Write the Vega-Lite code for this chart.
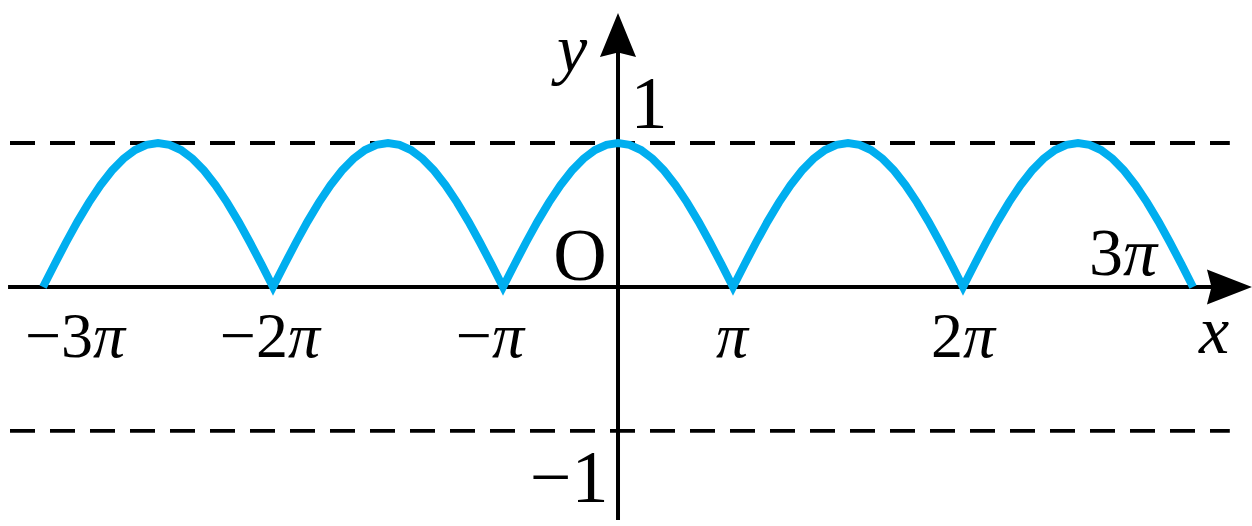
{
  "$schema": "https://vega.github.io/schema/vega-lite/v6.json",
  "width": 1252,
  "height": 526,
  "padding": 0,
  "autosize": {"type": "fit", "contains": "padding"},
  "background": "white",
  "config": {"view": {"stroke": null}},
  "datasets": {
    "curve": [
      {"x": -5.0, "y": 0}, {"x": -4.9, "y": 0.1564}, {"x": -4.8, "y": 0.309}, {"x": -4.7, "y": 0.454}, {"x": -4.6, "y": 0.5878}, {"x": -4.5, "y": 0.7071}, {"x": -4.4, "y": 0.809}, {"x": -4.3, "y": 0.891}, {"x": -4.2, "y": 0.9511}, {"x": -4.1, "y": 0.9877},
      {"x": -4.0, "y": 1}, {"x": -3.9, "y": 0.9877}, {"x": -3.8, "y": 0.9511}, {"x": -3.7, "y": 0.891}, {"x": -3.6, "y": 0.809}, {"x": -3.5, "y": 0.7071}, {"x": -3.4, "y": 0.5878}, {"x": -3.3, "y": 0.454}, {"x": -3.2, "y": 0.309}, {"x": -3.1, "y": 0.1564},
      {"x": -3.0, "y": 0}, {"x": -2.9, "y": 0.1564}, {"x": -2.8, "y": 0.309}, {"x": -2.7, "y": 0.454}, {"x": -2.6, "y": 0.5878}, {"x": -2.5, "y": 0.7071}, {"x": -2.4, "y": 0.809}, {"x": -2.3, "y": 0.891}, {"x": -2.2, "y": 0.9511}, {"x": -2.1, "y": 0.9877},
      {"x": -2.0, "y": 1}, {"x": -1.9, "y": 0.9877}, {"x": -1.8, "y": 0.9511}, {"x": -1.7, "y": 0.891}, {"x": -1.6, "y": 0.809}, {"x": -1.5, "y": 0.7071}, {"x": -1.4, "y": 0.5878}, {"x": -1.3, "y": 0.454}, {"x": -1.2, "y": 0.309}, {"x": -1.1, "y": 0.1564},
      {"x": -1.0, "y": 0}, {"x": -0.9, "y": 0.1564}, {"x": -0.8, "y": 0.309}, {"x": -0.7, "y": 0.454}, {"x": -0.6, "y": 0.5878}, {"x": -0.5, "y": 0.7071}, {"x": -0.4, "y": 0.809}, {"x": -0.3, "y": 0.891}, {"x": -0.2, "y": 0.9511}, {"x": -0.1, "y": 0.9877},
      {"x": 0.0, "y": 1}, {"x": 0.1, "y": 0.9877}, {"x": 0.2, "y": 0.9511}, {"x": 0.3, "y": 0.891}, {"x": 0.4, "y": 0.809}, {"x": 0.5, "y": 0.7071}, {"x": 0.6, "y": 0.5878}, {"x": 0.7, "y": 0.454}, {"x": 0.8, "y": 0.309}, {"x": 0.9, "y": 0.1564},
      {"x": 1.0, "y": 0}, {"x": 1.1, "y": 0.1564}, {"x": 1.2, "y": 0.309}, {"x": 1.3, "y": 0.454}, {"x": 1.4, "y": 0.5878}, {"x": 1.5, "y": 0.7071}, {"x": 1.6, "y": 0.809}, {"x": 1.7, "y": 0.891}, {"x": 1.8, "y": 0.9511}, {"x": 1.9, "y": 0.9877},
      {"x": 2.0, "y": 1}, {"x": 2.1, "y": 0.9877}, {"x": 2.2, "y": 0.9511}, {"x": 2.3, "y": 0.891}, {"x": 2.4, "y": 0.809}, {"x": 2.5, "y": 0.7071}, {"x": 2.6, "y": 0.5878}, {"x": 2.7, "y": 0.454}, {"x": 2.8, "y": 0.309}, {"x": 2.9, "y": 0.1564},
      {"x": 3.0, "y": 0}, {"x": 3.1, "y": 0.1564}, {"x": 3.2, "y": 0.309}, {"x": 3.3, "y": 0.454}, {"x": 3.4, "y": 0.5878}, {"x": 3.5, "y": 0.7071}, {"x": 3.6, "y": 0.809}, {"x": 3.7, "y": 0.891}, {"x": 3.8, "y": 0.9511}, {"x": 3.9, "y": 0.9877},
      {"x": 4.0, "y": 1}, {"x": 4.1, "y": 0.9877}, {"x": 4.2, "y": 0.9511}, {"x": 4.3, "y": 0.891}, {"x": 4.4, "y": 0.809}, {"x": 4.5, "y": 0.7071}, {"x": 4.6, "y": 0.5878}, {"x": 4.7, "y": 0.454}, {"x": 4.8, "y": 0.309}, {"x": 4.9, "y": 0.1564},
      {"x": 5.0, "y": 0}
    ],
    "dashed": [{"y": 1}, {"y": -1}],
    "ticks": [
      {"pre": "−3", "pi": "π", "x": -4.565, "y": -0.486, "group": "tick"},
      {"pre": "−2", "pi": "π", "x": -2.87, "y": -0.486, "group": "tick"},
      {"pre": "−", "pi": "π", "x": -1.096, "y": -0.486, "group": "tick"},
      {"pre": "", "pi": "π", "x": 0.852, "y": -0.486, "group": "tick"},
      {"pre": "2", "pi": "π", "x": 3.0, "y": -0.486, "group": "tick"},
      {"pre": "3", "pi": "π", "x": 4.391, "y": 0.083, "group": "big"}
    ],
    "labels": [
      {"text": "1", "x": 0.27, "y": 1.104, "style": "upright"},
      {"text": "−1", "x": -0.426, "y": -1.493, "style": "upright"},
      {"text": "O", "x": -0.33, "y": 0.049, "style": "upright"},
      {"text": "y", "x": -0.4, "y": 1.493, "style": "italic"},
      {"text": "x", "x": 5.183, "y": -0.458, "style": "italic"}
    ],
    "arrowX": [{"x": 5.317, "y": 0}],
    "arrowY": [{"x": 0, "y": 1.75}]
  },
  "layer": [
    {
      "data": {"name": "dashed"},
      "mark": {"type": "rule", "color": "black", "strokeWidth": 3.8, "strokeDash": [25, 15]},
      "encoding": {
        "x": {"datum": -5.287, "type": "quantitative", "scale": {"domain": [-5.374, 5.513], "nice": false, "zero": false}, "axis": null},
        "x2": {"datum": 5.32},
        "y": {"field": "y", "type": "quantitative", "scale": {"domain": [-1.66, 1.993], "nice": false, "zero": false}, "axis": null}
      }
    },
    {
      "data": {"values": [{}]},
      "mark": {"type": "rule", "color": "black", "strokeWidth": 4},
      "encoding": {
        "x": {"datum": -5.304, "type": "quantitative", "scale": {"domain": [-5.374, 5.513], "nice": false, "zero": false}, "axis": null},
        "x2": {"datum": 5.25},
        "y": {"datum": 0, "type": "quantitative", "scale": {"domain": [-1.66, 1.993], "nice": false, "zero": false}, "axis": null}
      }
    },
    {
      "data": {"values": [{}]},
      "mark": {"type": "rule", "color": "black", "strokeWidth": 4},
      "encoding": {
        "x": {"datum": 0, "type": "quantitative", "scale": {"domain": [-5.374, 5.513], "nice": false, "zero": false}, "axis": null},
        "y": {"datum": -1.618, "type": "quantitative", "scale": {"domain": [-1.66, 1.993], "nice": false, "zero": false}, "axis": null},
        "y2": {"datum": 1.7}
      }
    },
    {
      "data": {"name": "curve"},
      "mark": {"type": "line", "color": "#00AEEF", "strokeWidth": 8, "strokeCap": "butt", "strokeJoin": "miter"},
      "encoding": {
        "x": {"field": "x", "type": "quantitative", "scale": {"domain": [-5.374, 5.513], "nice": false, "zero": false}, "axis": null},
        "y": {"field": "y", "type": "quantitative", "scale": {"domain": [-1.66, 1.993], "nice": false, "zero": false}, "axis": null}
      }
    },
    {
      "data": {"name": "arrowX"},
      "mark": {"type": "point", "filled": true, "color": "black", "opacity": 1, "strokeWidth": 0, "size": 2025, "shape": "M1,0 L-1,-0.78 L-0.8,0 L-1,0.78 Z"},
      "encoding": {
        "x": {"field": "x", "type": "quantitative", "scale": {"domain": [-5.374, 5.513], "nice": false, "zero": false}, "axis": null},
        "y": {"field": "y", "type": "quantitative", "scale": {"domain": [-1.66, 1.993], "nice": false, "zero": false}, "axis": null}
      }
    },
    {
      "data": {"name": "arrowY"},
      "mark": {"type": "point", "filled": true, "color": "black", "opacity": 1, "strokeWidth": 0, "size": 1936, "shape": "M0,-1 L0.82,1 L0,0.8 L-0.82,1 Z"},
      "encoding": {
        "x": {"field": "x", "type": "quantitative", "scale": {"domain": [-5.374, 5.513], "nice": false, "zero": false}, "axis": null},
        "y": {"field": "y", "type": "quantitative", "scale": {"domain": [-1.66, 1.993], "nice": false, "zero": false}, "axis": null}
      }
    },
    {
      "data": {"name": "ticks"},
      "transform": [{"filter": "datum.group === 'tick'"}],
      "mark": {"type": "text", "font": "Liberation Serif", "fontSize": 64, "align": "right", "baseline": "alphabetic", "color": "black"},
      "encoding": {
        "text": {"field": "pre"},
        "x": {"field": "x", "type": "quantitative", "scale": {"domain": [-5.374, 5.513], "nice": false, "zero": false}, "axis": null},
        "y": {"field": "y", "type": "quantitative", "scale": {"domain": [-1.66, 1.993], "nice": false, "zero": false}, "axis": null}
      }
    },
    {
      "data": {"name": "ticks"},
      "transform": [{"filter": "datum.group === 'tick'"}],
      "mark": {"type": "text", "font": "Liberation Serif", "fontStyle": "italic", "fontSize": 64, "align": "left", "baseline": "alphabetic", "color": "black"},
      "encoding": {
        "text": {"field": "pi"},
        "x": {"field": "x", "type": "quantitative", "scale": {"domain": [-5.374, 5.513], "nice": false, "zero": false}, "axis": null},
        "y": {"field": "y", "type": "quantitative", "scale": {"domain": [-1.66, 1.993], "nice": false, "zero": false}, "axis": null}
      }
    },
    {
      "data": {"name": "ticks"},
      "transform": [{"filter": "datum.group === 'big'"}],
      "mark": {"type": "text", "font": "Liberation Serif", "fontSize": 68, "align": "right", "baseline": "alphabetic", "color": "black"},
      "encoding": {
        "text": {"field": "pre"},
        "x": {"field": "x", "type": "quantitative", "scale": {"domain": [-5.374, 5.513], "nice": false, "zero": false}, "axis": null},
        "y": {"field": "y", "type": "quantitative", "scale": {"domain": [-1.66, 1.993], "nice": false, "zero": false}, "axis": null}
      }
    },
    {
      "data": {"name": "ticks"},
      "transform": [{"filter": "datum.group === 'big'"}],
      "mark": {"type": "text", "font": "Liberation Serif", "fontStyle": "italic", "fontSize": 68, "align": "left", "baseline": "alphabetic", "color": "black"},
      "encoding": {
        "text": {"field": "pi"},
        "x": {"field": "x", "type": "quantitative", "scale": {"domain": [-5.374, 5.513], "nice": false, "zero": false}, "axis": null},
        "y": {"field": "y", "type": "quantitative", "scale": {"domain": [-1.66, 1.993], "nice": false, "zero": false}, "axis": null}
      }
    },
    {
      "data": {"name": "labels"},
      "transform": [{"filter": "datum.style === 'upright'"}],
      "mark": {"type": "text", "font": "Liberation Serif", "fontSize": 74, "align": "center", "baseline": "alphabetic", "color": "black"},
      "encoding": {
        "text": {"field": "text"},
        "x": {"field": "x", "type": "quantitative", "scale": {"domain": [-5.374, 5.513], "nice": false, "zero": false}, "axis": null},
        "y": {"field": "y", "type": "quantitative", "scale": {"domain": [-1.66, 1.993], "nice": false, "zero": false}, "axis": null}
      }
    },
    {
      "data": {"name": "labels"},
      "transform": [{"filter": "datum.style === 'italic'"}],
      "mark": {"type": "text", "font": "Liberation Serif", "fontStyle": "italic", "fontSize": 68, "align": "center", "baseline": "alphabetic", "color": "black"},
      "encoding": {
        "text": {"field": "text"},
        "x": {"field": "x", "type": "quantitative", "scale": {"domain": [-5.374, 5.513], "nice": false, "zero": false}, "axis": null},
        "y": {"field": "y", "type": "quantitative", "scale": {"domain": [-1.66, 1.993], "nice": false, "zero": false}, "axis": null}
      }
    }
  ]
}
